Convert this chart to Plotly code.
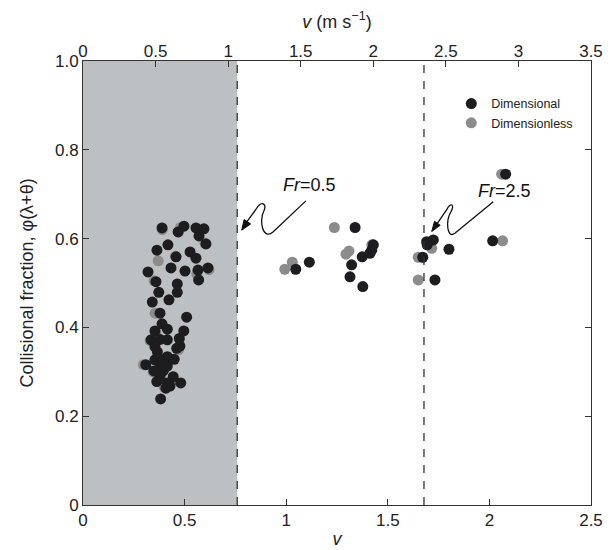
import plotly.graph_objects as go

# Dimensional (black) points: v (dimensionless velocity), collisional fraction
dim_v = [0.389, 0.497, 0.556, 0.595, 0.468, 0.571, 0.418, 0.605, 0.364, 0.527, 0.458, 0.556,
         0.615, 0.320, 0.433, 0.502, 0.566, 0.359, 0.464, 0.569, 0.373, 0.464, 0.341, 0.423,
         0.379, 0.510, 0.389, 0.415, 0.354, 0.496, 0.335, 0.379, 0.415, 0.474, 0.354, 0.461,
         0.477, 0.366, 0.415, 0.354, 0.395, 0.449, 0.309, 0.379, 0.415, 0.349, 0.395, 0.379,
         0.444, 0.363, 0.415, 0.481, 0.428, 0.408, 0.382,
         1.339, 1.047, 1.114, 1.374, 1.322, 1.314, 1.377, 1.429, 1.421, 1.412,
         1.691, 1.724, 1.694, 1.801, 1.672, 1.732, 2.016, 2.080]
dim_phi = [0.624, 0.628, 0.624, 0.622, 0.615, 0.606, 0.586, 0.588, 0.574, 0.570, 0.559, 0.556,
           0.534, 0.525, 0.534, 0.527, 0.529, 0.503, 0.498, 0.507, 0.479, 0.479, 0.457, 0.462,
           0.432, 0.423, 0.408, 0.396, 0.392, 0.392, 0.372, 0.373, 0.372, 0.375, 0.357, 0.353,
           0.358, 0.345, 0.334, 0.327, 0.327, 0.328, 0.316, 0.316, 0.313, 0.302, 0.302, 0.289,
           0.289, 0.278, 0.275, 0.275, 0.268, 0.263, 0.239,
           0.625, 0.531, 0.547, 0.559, 0.541, 0.514, 0.492, 0.586, 0.574, 0.567,
           0.593, 0.597, 0.586, 0.576, 0.558, 0.507, 0.595, 0.745]

# Dimensionless (grey) points
dl_v = [0.350, 0.297, 0.355, 0.620, 0.600, 0.370, 0.455, 0.360, 0.345, 0.400, 0.470, 0.480,
        0.390, 0.470, 0.330, 0.560, 0.405, 0.440,
        1.237, 1.030, 0.993, 1.309, 1.294, 1.421, 1.716, 1.650, 1.650, 2.065, 2.060]
dl_phi = [0.505, 0.316, 0.432, 0.530, 0.590, 0.550, 0.560, 0.385, 0.300, 0.265, 0.350, 0.625,
          0.620, 0.615, 0.370, 0.520, 0.330, 0.280,
          0.625, 0.547, 0.531, 0.572, 0.565, 0.586, 0.578, 0.558, 0.507, 0.595, 0.745]

x_ticks = [0, 0.5, 1, 1.5, 2, 2.5]
x_ticktext = ["0", "0.5", "1", "1.5", "2", "2.5"]
top_ticks = [0, 0.5, 1, 1.5, 2, 2.5, 3, 3.5]
top_ticktext = ["0", "0.5", "1", "1.5", "2", "2.5", "3", "3.5"]
y_ticks = [0, 0.2, 0.4, 0.6, 0.8, 1.0]
y_ticktext = ["0", "0.2", "0.4", "0.6", "0.8", "1.0"]

fr_low = 0.759   # Fr = 0.5 boundary (v)
fr_high = 1.678  # Fr = 2.5 boundary (v)

FONT = "Arial, Liberation Sans, sans-serif"
BLACK = "#1d1d1f"
GREY = "#8c8c8c"
AX = "#333333"

fig = go.Figure()
fig.add_trace(go.Scatter(x=dl_v, y=dl_phi, mode="markers", name="Dimensionless",
                         marker=dict(color=GREY, size=11), legendrank=2))
fig.add_trace(go.Scatter(x=dim_v, y=dim_phi, mode="markers", name="Dimensional",
                         marker=dict(color=BLACK, size=11), legendrank=1))
# invisible trace for the top axis
fig.add_trace(go.Scatter(x=[0, 3.5], y=[0, 0], xaxis="x2", mode="markers",
                         marker=dict(opacity=0), showlegend=False, hoverinfo="skip"))

# shaded region and dashed Fr lines
fig.add_shape(type="rect", xref="x", yref="y", x0=0, x1=fr_low, y0=0, y1=1,
              fillcolor="#bcc0c2", line=dict(width=0), layer="below")
for xv in (fr_low, fr_high):
    fig.add_shape(type="line", xref="x", yref="y", x0=xv, x1=xv, y0=0, y1=1,
                  line=dict(color=AX, width=1.3, dash="8px,8px"), layer="above")

# curvy arrows
fig.add_shape(type="path", xref="x", yref="y",
              path="M 1.097,0.685 L 0.935,0.615 C 0.885,0.595 0.865,0.640 0.890,0.662 "
                   "C 0.905,0.678 0.880,0.688 0.850,0.665 L 0.805,0.637",
              line=dict(color="#111111", width=1.3))
fig.add_shape(type="path", xref="x", yref="y",
              path="M 2.019,0.683 L 1.830,0.612 C 1.790,0.598 1.785,0.640 1.810,0.660 "
                   "C 1.830,0.676 1.810,0.684 1.790,0.665 L 1.742,0.633",
              line=dict(color="#111111", width=1.3))
# arrow heads
fig.add_shape(type="path", xref="x", yref="y",
              path="M 0.781,0.619 L 0.825,0.633 L 0.793,0.643 Z",
              fillcolor="#111111", line=dict(color="#111111", width=1))
fig.add_shape(type="path", xref="x", yref="y",
              path="M 1.716,0.616 L 1.758,0.630 L 1.730,0.639 Z",
              fillcolor="#111111", line=dict(color="#111111", width=1))

fig.add_annotation(x=1.117, y=0.721, xref="x", yref="y", text="<i>Fr</i>=0.5",
                   showarrow=False, font=dict(family=FONT, size=18, color="#111111"))
fig.add_annotation(x=2.072, y=0.708, xref="x", yref="y", text="<i>Fr</i>=2.5",
                   showarrow=False, font=dict(family=FONT, size=18, color="#111111"))

fig.update_layout(
    width=616, height=550,
    margin=dict(l=83, r=25, t=61, b=45),
    paper_bgcolor="white", plot_bgcolor="white",
    font=dict(family=FONT, size=17, color="#222222"),
    showlegend=True,
    legend=dict(x=0.725, y=0.937, xanchor="left", yanchor="top",
                bgcolor="rgba(0,0,0,0)", font=dict(size=12.5, color="#222222"),
                tracegroupgap=0),
    xaxis=dict(range=[0, 2.5], tickvals=x_ticks, ticktext=x_ticktext, automargin=False,
               showgrid=False, zeroline=False, showline=True, linecolor=AX, linewidth=1,
               mirror=True, ticks="inside", ticklen=6, tickcolor=AX,
               title=dict(text="<i>v</i>", standoff=2, font=dict(size=18))),
    xaxis2=dict(range=[0, 3.5], tickvals=top_ticks, ticktext=top_ticktext, automargin=False,
                overlaying="x", side="top", showgrid=False, zeroline=False,
                ticks="inside", ticklen=6, tickcolor=AX, showline=False,
                title=dict(text="<i>v</i> (m s<sup>−1</sup>)", standoff=8, font=dict(size=18))),
    yaxis=dict(range=[0, 1.0], tickvals=y_ticks, ticktext=y_ticktext, automargin=False,
               showgrid=False, zeroline=False, showline=True, linecolor=AX, linewidth=1,
               mirror="ticks", ticks="inside", ticklen=6, tickcolor=AX,
               title=dict(text="Collisional fraction, φ(λ+θ)", standoff=16, font=dict(size=18))),
)

# remove the default 8px page margin so the 616x550 figure fills the window exactly
fig.write_html("out.html", config={"displayModeBar": False},
               post_script="document.body.style.margin='0';")
